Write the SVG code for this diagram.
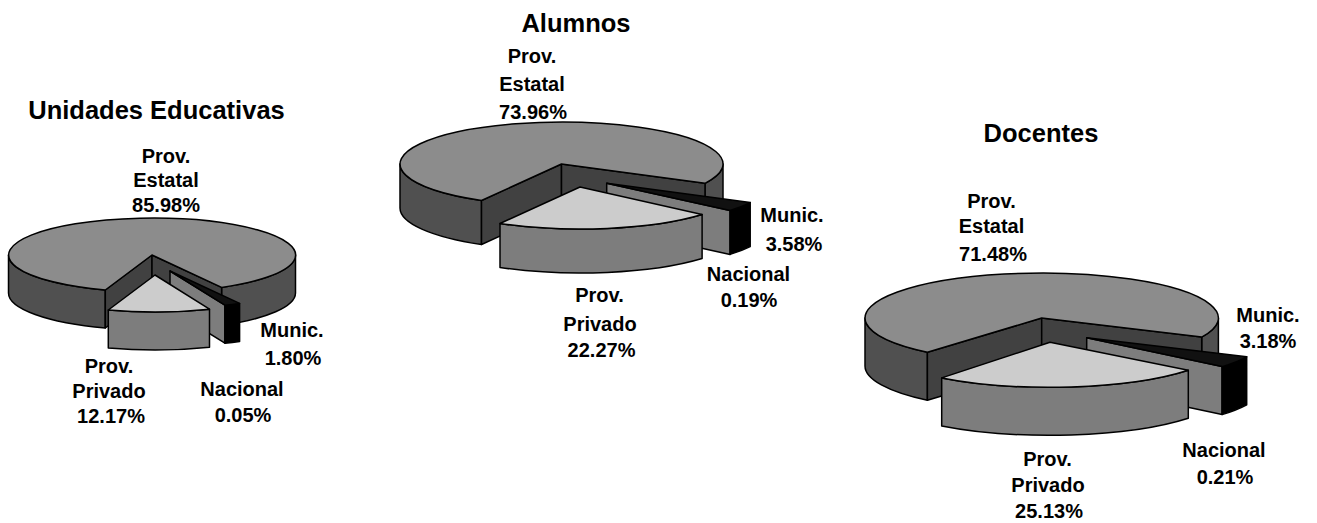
<svg xmlns="http://www.w3.org/2000/svg" width="1317" height="523" viewBox="0 0 1317 523">
<style>
path{stroke:#000;stroke-width:1.5;stroke-linejoin:round}
.top{fill:#8c8c8c}
.wall{fill:#505050}
.cut{fill:#414141}
.ptop{fill:#cccccc}
.pwall{fill:#7d7d7d}
.mcut{fill:#7d7d7d}
.mtop{fill:#111}
.mwall{fill:#000}
text{font-family:"Liberation Sans",Arial,sans-serif;font-weight:bold;fill:#000;text-anchor:middle}
.title{font-size:25.5px}
.lbl{font-size:20px}
</style>
<rect width="1317" height="523" fill="#fff"/>

<g id="pie-unidades">
  <g id="u-estatal">
    <path class="wall" d="M8.5,255 L8.5,293 A143.5,37 0 0 0 105.3,328 L105.3,290 A143.5,37 0 0 1 8.5,255 Z"/>
    <path class="wall" d="M295.5,255 A143.5,37 0 0 1 221.6,287.4 L221.6,325.4 A143.5,37 0 0 0 295.5,293 Z"/>
    <path class="cut" d="M152,255 L105.3,290 L105.3,328 L152,293 Z"/>
    <path class="cut" d="M152,255 L221.6,287.4 L221.6,325.4 L152,293 Z"/>
    <path class="top" d="M152,255 L221.6,287.4 A143.5,37 0 1 0 105.3,290 Z"/>
  </g>
  <g id="u-munic">
    <path class="mcut" d="M170,271 L224.9,305.2 L224.9,343.2 L170,309 Z"/>
    <path class="mwall" d="M239.6,303.4 A143.5,37 0 0 1 224.9,305.2 L224.9,343.2 A143.5,37 0 0 0 239.6,341.4 Z"/>
    <path class="mtop" d="M170,271 L239.6,303.4 A143.5,37 0 0 1 224.9,305.2 Z"/>
  </g>
  <g id="u-privado">
    <path class="pwall" d="M209.5,309.2 A143.5,37 0 0 1 108.3,310 L108.3,348 A143.5,37 0 0 0 209.5,347.2 Z"/>
    <path class="ptop" d="M155,275 L209.5,309.2 A143.5,37 0 0 1 108.3,310 Z"/>
  </g>
  <g id="u-labels">
    <text class="title" x="156.5" y="119">Unidades Educativas</text>
    <text class="lbl" x="166" y="162.5">Prov.</text>
    <text class="lbl" x="166" y="187">Estatal</text>
    <text class="lbl" x="166" y="211.5">85.98%</text>
    <text class="lbl" x="292" y="337">Munic.</text>
    <text class="lbl" x="293" y="364.5">1.80%</text>
    <text class="lbl" x="242" y="395.5">Nacional</text>
    <text class="lbl" x="243" y="421.5">0.05%</text>
    <text class="lbl" x="109" y="373">Prov.</text>
    <text class="lbl" x="109" y="398">Privado</text>
    <text class="lbl" x="111" y="423">12.17%</text>
  </g>
</g>

<g id="pie-alumnos">
  <g id="a-estatal">
    <path class="wall" d="M400,164 L400,208 A161.5,42 0 0 0 481.5,244.5 L481.5,200.5 A161.5,42 0 0 1 400,164 Z"/>
    <path class="wall" d="M723,164 A161.5,42 0 0 1 705,183.3 L705,227.3 A161.5,42 0 0 0 723,208 Z"/>
    <path class="cut" d="M561.5,164 L481.5,200.5 L481.5,244.5 L561.5,208 Z"/>
    <path class="cut" d="M561.5,164 L705,183.3 L705,227.3 L561.5,208 Z"/>
    <path class="top" d="M561.5,164 L705,183.3 A161.5,42 0 1 0 481.5,200.5 Z"/>
  </g>
  <g id="a-munic">
    <path class="mcut" d="M606.7,183.3 L730.1,210.4 L730.1,254.4 L606.7,227.3 Z"/>
    <path class="mwall" d="M750.2,202.6 A161.5,42 0 0 1 730.1,210.4 L730.1,254.4 A161.5,42 0 0 0 750.2,246.6 Z"/>
    <path class="mtop" d="M606.7,183.3 L750.2,202.6 A161.5,42 0 0 1 730.1,210.4 Z"/>
  </g>
  <g id="a-privado">
    <path class="pwall" d="M702.1,214.5 A161.5,42 0 0 1 500,223.5 L500,267.5 A161.5,42 0 0 0 702.1,258.5 Z"/>
    <path class="ptop" d="M580,187 L702.1,214.5 A161.5,42 0 0 1 500,223.5 Z"/>
  </g>
  <g id="a-labels">
    <text class="title" x="576" y="32">Alumnos</text>
    <text class="lbl" x="532" y="63">Prov.</text>
    <text class="lbl" x="532" y="91">Estatal</text>
    <text class="lbl" x="533" y="118.5">73.96%</text>
    <text class="lbl" x="792" y="222">Munic.</text>
    <text class="lbl" x="794" y="250.5">3.58%</text>
    <text class="lbl" x="748.5" y="280.5">Nacional</text>
    <text class="lbl" x="749" y="306.5">0.19%</text>
    <text class="lbl" x="599.5" y="302">Prov.</text>
    <text class="lbl" x="600" y="330.5">Privado</text>
    <text class="lbl" x="601.5" y="356.5">22.27%</text>
  </g>
</g>

<g id="pie-docentes">
  <g id="d-estatal">
    <path class="wall" d="M865,318 L865,366 A176.7,45 0 0 0 927.4,400.3 L927.4,352.3 A176.7,45 0 0 1 865,318 Z"/>
    <path class="wall" d="M1218.4,318 A176.7,45 0 0 1 1201.7,337.1 L1201.7,385.1 A176.7,45 0 0 0 1218.4,366 Z"/>
    <path class="cut" d="M1041.7,318 L927.4,352.3 L927.4,400.3 L1041.7,366 Z"/>
    <path class="cut" d="M1041.7,318 L1201.7,337.1 L1201.7,385.1 L1041.7,366 Z"/>
    <path class="top" d="M1041.7,318 L1201.7,337.1 A176.7,45 0 1 0 927.4,352.3 Z"/>
  </g>
  <g id="d-munic">
    <path class="mcut" d="M1086.7,337.7 L1222.1,366.6 L1222.1,414.6 L1086.7,385.7 Z"/>
    <path class="mwall" d="M1246.7,356.8 A176.7,45 0 0 1 1222.1,366.6 L1222.1,414.6 A176.7,45 0 0 0 1246.7,404.8 Z"/>
    <path class="mtop" d="M1086.7,337.7 L1246.7,356.8 A176.7,45 0 0 1 1222.1,366.6 Z"/>
  </g>
  <g id="d-privado">
    <path class="pwall" d="M1188.3,370.3 A176.7,45 0 0 1 941.7,377.9 L941.7,425.9 A176.7,45 0 0 0 1188.3,418.3 Z"/>
    <path class="ptop" d="M1050,342.3 L1188.3,370.3 A176.7,45 0 0 1 941.7,377.9 Z"/>
  </g>
  <g id="d-labels">
    <text class="title" x="1041" y="142">Docentes</text>
    <text class="lbl" x="991.5" y="208">Prov.</text>
    <text class="lbl" x="991.5" y="233">Estatal</text>
    <text class="lbl" x="993" y="260.5">71.48%</text>
    <text class="lbl" x="1268" y="321.5">Munic.</text>
    <text class="lbl" x="1268" y="347.5">3.18%</text>
    <text class="lbl" x="1224" y="456.5">Nacional</text>
    <text class="lbl" x="1225" y="483.5">0.21%</text>
    <text class="lbl" x="1047.5" y="465.5">Prov.</text>
    <text class="lbl" x="1048" y="492">Privado</text>
    <text class="lbl" x="1049" y="517.5">25.13%</text>
  </g>
</g>
</svg>
